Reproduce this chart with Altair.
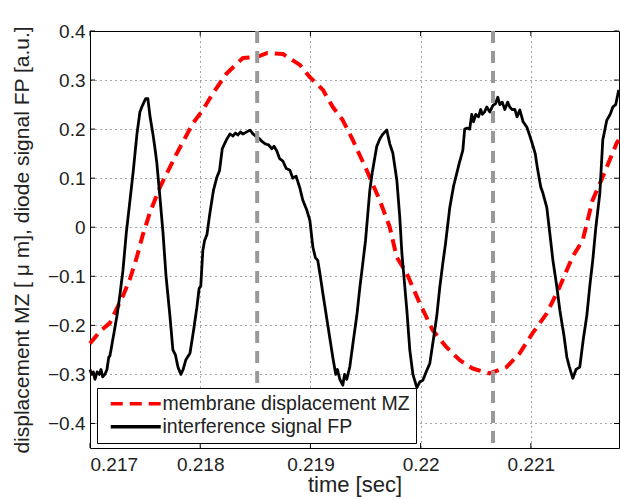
import altair as alt
import pandas as pd

# ---- data ----
mz_time = [0.217000, 0.217091, 0.217181, 0.217245, 0.217299, 0.217363, 0.217426, 0.217480,
           0.217544, 0.217635, 0.217789, 0.217934, 0.218024, 0.218115, 0.218242, 0.218387,
           0.218514, 0.218605, 0.218750, 0.218904, 0.218995, 0.219113, 0.219203, 0.219294,
           0.219384, 0.219511, 0.219629, 0.219720, 0.219783, 0.219874, 0.219992, 0.220110,
           0.220237, 0.220355, 0.220472, 0.220626, 0.220780, 0.220898, 0.221016, 0.221143,
           0.221261, 0.221379, 0.221470, 0.221560, 0.221651, 0.221778, 0.221796]
mz_value = [-0.237, -0.212, -0.195, -0.165, -0.140, -0.105, -0.060, -0.015,
            0.030, 0.082, 0.151, 0.212, 0.239, 0.273, 0.314, 0.345,
            0.347, 0.355, 0.353, 0.331, 0.306, 0.280, 0.245, 0.218,
            0.178, 0.116, 0.055, 0.000, -0.061, -0.094, -0.155, -0.210,
            -0.245, -0.271, -0.288, -0.298, -0.285, -0.257, -0.216, -0.176,
            -0.122, -0.060, -0.027, 0.055, 0.102, 0.171, 0.178]

fp_time = [0.217000, 0.217015, 0.217030, 0.217045, 0.217065, 0.217085, 0.217100, 0.217115,
           0.217135, 0.217154, 0.217170, 0.217181, 0.217210, 0.217245, 0.217270, 0.217299,
           0.217330, 0.217363, 0.217395, 0.217426, 0.217453, 0.217470, 0.217490, 0.217505,
           0.217525, 0.217545, 0.217571, 0.217590, 0.217607, 0.217635, 0.217662, 0.217690,
           0.217725, 0.217752, 0.217775, 0.217798, 0.217825, 0.217845, 0.217870, 0.217907,
           0.217940, 0.217970, 0.217990, 0.218005, 0.218024, 0.218040, 0.218061, 0.218088,
           0.218120, 0.218151, 0.218175, 0.218200, 0.218242, 0.218270, 0.218297, 0.218320,
           0.218342, 0.218365, 0.218387, 0.218420, 0.218451, 0.218480, 0.218514, 0.218540,
           0.218560, 0.218590, 0.218620, 0.218650, 0.218670, 0.218696, 0.218720, 0.218750,
           0.218780, 0.218814, 0.218840, 0.218870, 0.218904, 0.218931, 0.218967, 0.218995,
           0.219022, 0.219045, 0.219067, 0.219090, 0.219113, 0.219158, 0.219203, 0.219230,
           0.219245, 0.219267, 0.219294, 0.219310, 0.219330, 0.219357, 0.219390, 0.219421,
           0.219450, 0.219475, 0.219500, 0.219539, 0.219560, 0.219602, 0.219630, 0.219657,
           0.219693, 0.219720, 0.219748, 0.219784, 0.219811, 0.219830, 0.219875, 0.219902,
           0.219930, 0.219966, 0.219993, 0.220020, 0.220050, 0.220083, 0.220115, 0.220147,
           0.220175, 0.220201, 0.220225, 0.220265, 0.220300, 0.220328, 0.220350, 0.220383,
           0.220400, 0.220420, 0.220445, 0.220464, 0.220480, 0.220500, 0.220525, 0.220545,
           0.220560, 0.220580, 0.220600, 0.220628, 0.220655, 0.220680, 0.220700, 0.220719,
           0.220740, 0.220764, 0.220790, 0.220809, 0.220830, 0.220855, 0.220875, 0.220900,
           0.220930, 0.220964, 0.221000, 0.221040, 0.221060, 0.221090, 0.221109, 0.221145,
           0.221172, 0.221200, 0.221235, 0.221263, 0.221300, 0.221327, 0.221350, 0.221381,
           0.221410, 0.221444, 0.221475, 0.221508, 0.221535, 0.221562, 0.221590, 0.221626,
           0.221653, 0.221689, 0.221720, 0.221744, 0.221770, 0.221798]
fp_value = [-0.290, -0.300, -0.295, -0.310, -0.295, -0.300, -0.290, -0.305,
            -0.300, -0.290, -0.265, -0.262, -0.225, -0.180, -0.140, -0.088,
            -0.010, 0.055, 0.120, 0.190, 0.235, 0.245, 0.255, 0.262,
            0.262, 0.225, 0.190, 0.160, 0.130, 0.060, -0.010, -0.100,
            -0.180, -0.250, -0.260, -0.285, -0.300, -0.290, -0.270, -0.257,
            -0.210, -0.163, -0.125, -0.120, -0.047, -0.027, -0.015, 0.029,
            0.075, 0.102, 0.115, 0.160, 0.180, 0.190, 0.186, 0.192,
            0.188, 0.194, 0.190, 0.194, 0.198, 0.190, 0.184, 0.180,
            0.175, 0.170, 0.168, 0.160, 0.165, 0.155, 0.140, 0.135,
            0.120, 0.116, 0.100, 0.104, 0.080, 0.055, 0.035, 0.014,
            -0.040, -0.062, -0.068, -0.100, -0.135, -0.200, -0.265, -0.300,
            -0.290, -0.310, -0.322, -0.300, -0.310, -0.285, -0.230, -0.180,
            -0.120, -0.074, -0.027, 0.075, 0.110, 0.165, 0.180, 0.190,
            0.198, 0.170, 0.151, 0.096, 0.020, -0.053, -0.169, -0.251,
            -0.300, -0.327, -0.315, -0.312, -0.295, -0.278, -0.230, -0.180,
            -0.120, -0.074, -0.035, 0.041, 0.085, 0.110, 0.130, 0.157,
            0.200, 0.202, 0.200, 0.230, 0.215, 0.230, 0.225, 0.240,
            0.230, 0.235, 0.245, 0.235, 0.248, 0.252, 0.265, 0.250,
            0.255, 0.240, 0.255, 0.245, 0.240, 0.240, 0.225, 0.239,
            0.215, 0.204, 0.180, 0.150, 0.120, 0.082, 0.070, 0.040,
            -0.012, -0.067, -0.120, -0.169, -0.220, -0.265, -0.285, -0.308,
            -0.290, -0.285, -0.230, -0.180, -0.120, -0.067, 0.000, 0.069,
            0.178, 0.218, 0.230, 0.245, 0.250, 0.280]

series_names = ["membrane displacement MZ", "interference signal FP"]
marker_times = [0.218517, 0.220657]
x_ticks = [0.217, 0.218, 0.219, 0.220, 0.221]
y_ticks = [-0.4, -0.3, -0.2, -0.1, 0.0, 0.1, 0.2, 0.3, 0.4]

W, H = 529, 417
FONT = "Liberation Sans"

df_mz = pd.DataFrame({"time": mz_time, "value": mz_value, "series": series_names[0]})
df_fp = pd.DataFrame({"time": fp_time, "value": fp_value, "series": series_names[1]})

xscale = alt.Scale(domain=[0.217, 0.2218], nice=False, zero=False)
yscale = alt.Scale(domain=[-0.45, 0.4], nice=False, zero=False)
XT = "time [sec]"
YT = "displacement MZ [ \u03bc m], diode signal FP [a.u.]"

xaxis = alt.Axis(values=x_ticks, format=".4~f", title=XT, grid=True, domain=False, ticks=False,
                 labelFontSize=19, labelPadding=7, titleFontSize=22, titleFontWeight="normal",
                 titleY=43, titleBaseline="alphabetic")
yaxis = alt.Axis(values=y_ticks, format=".1~f", title=YT, grid=True, domain=False, ticks=False,
                 labelFontSize=19, labelPadding=5, titleFontSize=21, titleFontWeight="normal",
                 titleX=-62, titleBaseline="alphabetic", titleAngle=270)

color_enc = alt.Color("series:N", scale=alt.Scale(domain=series_names, range=["#ff0000", "#000000"]),
                      title=None)
dash_enc = alt.StrokeDash("series:N", scale=alt.Scale(domain=series_names, range=[[12, 7], [1, 0]]),
                          title=None)

def series_layer(d, width):
    return alt.Chart(d).mark_line(strokeCap="butt", strokeJoin="round", strokeWidth=width).encode(
        x=alt.X("time:Q", scale=xscale, axis=xaxis),
        y=alt.Y("value:Q", scale=yscale, axis=yaxis),
        color=color_enc,
        strokeDash=dash_enc,
    )

line_mz = series_layer(df_mz, 4)
line_fp = series_layer(df_fp, 2.8)

markers = alt.Chart(pd.DataFrame({"t": marker_times})).mark_rule(
    color="#999999", strokeWidth=4, strokeDash=[12, 8]
).encode(x=alt.X("t:Q", scale=xscale, axis=xaxis))

xt = pd.DataFrame({"t": x_ticks})
yt = pd.DataFrame({"v": y_ticks})
tick_style = dict(color="black", strokeWidth=1)
xt_bottom = alt.Chart(xt).mark_rule(**tick_style).encode(
    x=alt.X("t:Q", scale=xscale, axis=xaxis), y=alt.value(H), y2=alt.value(H - 5))
xt_top = alt.Chart(xt).mark_rule(**tick_style).encode(
    x=alt.X("t:Q", scale=xscale, axis=xaxis), y=alt.value(0), y2=alt.value(5))
yt_left = alt.Chart(yt).mark_rule(**tick_style).encode(
    y=alt.Y("v:Q", scale=yscale, axis=yaxis), x=alt.value(0), x2=alt.value(5))
yt_right = alt.Chart(yt).mark_rule(**tick_style).encode(
    y=alt.Y("v:Q", scale=yscale, axis=yaxis), x=alt.value(W), x2=alt.value(W - 5))

chart = alt.layer(line_mz, line_fp, markers, xt_bottom, xt_top, yt_left, yt_right).properties(
    width=W, height=H,
    autosize=alt.AutoSizeParams(type="none"),
    padding={"left": 90, "top": 31, "right": 1, "bottom": 51},
    background="white",
).configure_view(
    stroke="black", strokeWidth=1
).configure_axis(
    labelFont=FONT, titleFont=FONT, labelColor="#222222", titleColor="#222222",
    gridColor="#000000", gridDash=[1, 4], gridOpacity=0.7, gridWidth=1,
).configure_legend(
    orient="none", legendX=7, legendY=357,
    fillColor="white", strokeColor="black", padding=6,
    symbolType="M-5,0H5", symbolSize=100, symbolStrokeWidth=3.5, symbolOffset=23,
    labelFont=FONT, labelFontSize=19.5, labelColor="#222222", labelOffset=17,
    rowPadding=2, labelLimit=400,
)

chart.save("out.html", embed_options={"renderer": "svg", "actions": False})
